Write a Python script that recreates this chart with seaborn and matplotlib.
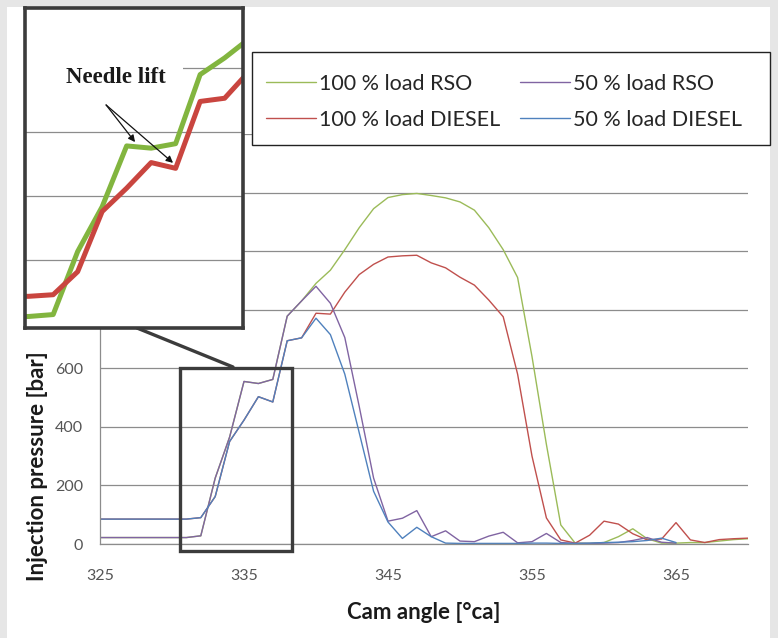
import numpy as np
import pandas as pd
import matplotlib.pyplot as plt
import seaborn as sns
from matplotlib.patches import Rectangle

# Valores (pressão de injeção em bar)
angulo_100 = list(range(325, 371))
angulo_50 = list(range(325, 366))

rso_100 = [22, 22, 22, 22, 22, 22, 22, 28, 225, 365, 555, 548, 562, 778, 830, 890,
           935, 1005, 1080, 1145, 1183, 1193, 1197, 1190, 1182, 1168, 1140, 1080, 1005,
           910, 640, 340, 65, 3, 2, 5, 25, 52, 18, 3, 3, 5, 5, 10, 15, 18]
diesel_100 = [85, 85, 85, 85, 85, 85, 85, 90, 162, 350, 423, 503, 485, 694, 704, 788,
              785, 860, 920, 955, 980, 984, 986, 960, 943, 911, 884, 833, 776,
              580, 300, 89, 14, 3, 30, 78, 68, 35, 14, 17, 73, 14, 5, 15, 18, 20]
rso_50 = [22, 22, 22, 22, 22, 22, 22, 28, 225, 365, 555, 548, 562, 778, 830, 880,
          822, 705, 470, 225, 78, 88, 114, 25, 45, 10, 8, 27, 40, 4, 8, 36, 5, 2, 2,
          3, 5, 12, 22, 6, 3]
diesel_50 = [85, 85, 85, 85, 85, 85, 85, 90, 162, 350, 423, 503, 485, 694, 704, 771,
             715, 580, 380, 180, 75, 19, 57, 25, 3, 2, 2, 2, 2, 2, 3, 3, 2, 2, 3,
             5, 6, 8, 12, 20, 5]

rotulos = ['100 % load RSO', '100 % load DIESEL', '50 % load RSO', '50 % load DIESEL']
cores = ['#9BBB59', '#C0504D', '#8064A2', '#4F81BD']

sns.set_style('white')
plt.rcParams['font.family'] = ['Lato', 'DejaVu Sans']

W, H = 778, 638
fig = plt.figure(figsize=(W / 100, H / 100), dpi=100, facecolor='#e6e6e6')
fig.add_artist(Rectangle((7 / W, 0), 763 / W, 631 / H, transform=fig.transFigure,
                         facecolor='white', edgecolor='none', zorder=-5))

# Gráfico principal
ax = fig.add_axes([100 / W, (H - 544) / H, 648 / W, 410 / H])
ax.set_facecolor('white')
series = [(angulo_100, rso_100), (angulo_100, diesel_100), (angulo_50, rso_50), (angulo_50, diesel_50)]
for (xs, ys), cor, rot in zip(series, cores, rotulos):
    sns.lineplot(x=xs, y=ys, ax=ax, color=cor, lw=1.0, label=rot)
handles, labels = ax.get_legend_handles_labels()
ax.get_legend().remove()

ax.set_xlim(325, 370)
ax.set_ylim(0, 1400)
ax.set_xticks(range(325, 370, 10))
ax.set_xticks(range(330, 371, 10), minor=True)
ax.set_yticks(range(0, 1401, 200))
ax.yaxis.grid(True, color='#8c8c8c', lw=0.9)
ax.set_axisbelow(True)
for s in ['top', 'right']:
    ax.spines[s].set_visible(False)
for s in ['left', 'bottom']:
    ax.spines[s].set_color('#8c8c8c')
    ax.spines[s].set_linewidth(0.9)
ax.tick_params(axis='both', which='both', direction='out', color='#8c8c8c',
               labelcolor='#555555', labelsize=11.5)
ax.tick_params(axis='x', which='both', length=6, pad=12)
ax.tick_params(axis='y', length=4, pad=8)

ax.set_xlabel('Cam angle [°ca]', fontsize=16, fontweight='bold', color='#1a1a1a', va='center')
ax.xaxis.set_label_coords(0.5, -0.168)
ax.set_ylabel('Injection pressure [bar]', fontsize=16, fontweight='bold', color='#1a1a1a', va='center')
ax.yaxis.set_label_coords(-0.097, 0.19)

# Caixa de destaque e ligação ao zoom
ax.add_patch(Rectangle((330.55, -24), 7.8, 624, fill=False, edgecolor='#3c3c3c',
                       lw=2.4, clip_on=False, zorder=4))
ax.plot([233 / W, 137 / W], [1 - 367 / H, 1 - 328 / H], transform=fig.transFigure,
        color='#3c3c3c', lw=2.4, clip_on=False, zorder=4)

# Legenda (moldura desenhada à parte)
fig.add_artist(Rectangle((252 / W, 1 - 145 / H), 518 / W, 93 / H, transform=fig.transFigure,
                         facecolor='white', edgecolor='#222222', lw=1.0, zorder=3))
leg = fig.legend(handles, labels, ncol=2, loc='upper left',
                 bbox_to_anchor=(266 / W, 1 - 74 / H), frameon=False, fontsize=15.5,
                 handlelength=2.3, handletextpad=0.15, borderpad=0, labelspacing=0.72,
                 columnspacing=0.95, borderaxespad=0)
leg.set_zorder(4)

# Zoom (detalhe do levantamento da agulha)
ax_in = fig.add_axes([25 / W, 1 - 328 / H, 218 / W, 320 / H], zorder=6)
ax_in.set_facecolor('white')
sns.lineplot(x=angulo_100, y=rso_100, ax=ax_in, color='#82b53f', lw=3.6)
sns.lineplot(x=angulo_100, y=diesel_100, ax=ax_in, color='#c9453f', lw=3.6)
ax_in.set_xlim(330.85, 339.75)
ax_in.set_ylim(-14, 986)
ax_in.set_yticks([200, 400, 600, 800])
ax_in.set_xticks([])
ax_in.yaxis.grid(True, color='#8c8c8c', lw=0.9)
ax_in.set_axisbelow(True)
ax_in.tick_params(length=0, labelleft=False, labelbottom=False)
for s in ax_in.spines.values():
    s.set_color('#3c3c3c')
    s.set_linewidth(2.6)
ax_in.add_patch(Rectangle((0, 0.72), 0.725, 0.13, transform=ax_in.transAxes,
                          facecolor='white', edgecolor='none', zorder=1.5))
ax_in.text(0.417, 0.784, 'Needle lift', transform=ax_in.transAxes, ha='center', va='center',
           fontsize=16.5, fontweight='bold', family=['Liberation Serif'], color='#1a1a1a', zorder=5)
for alvo in [(0.505, 0.581), (0.679, 0.516)]:
    ax_in.annotate('', xy=alvo, xytext=(0.372, 0.697), xycoords='axes fraction',
                   textcoords='axes fraction', zorder=5,
                   arrowprops=dict(arrowstyle='-|>', color='#111111', lw=0.9,
                                   mutation_scale=10, shrinkA=0, shrinkB=0))

fig.savefig('out.png', dpi=100, facecolor=fig.get_facecolor())
